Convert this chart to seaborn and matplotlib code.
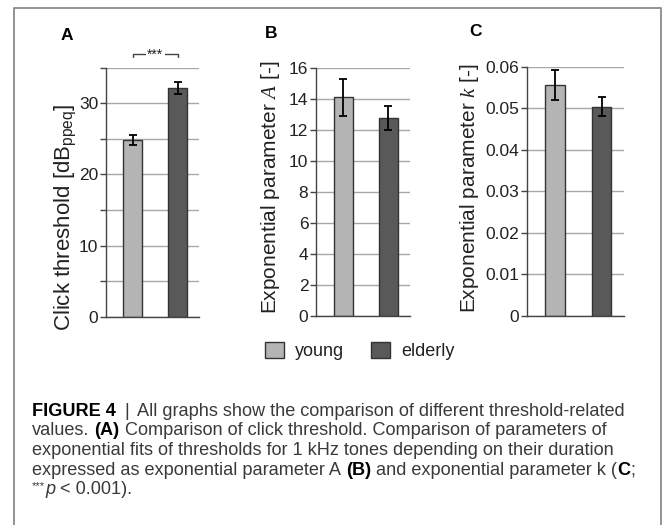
import matplotlib
matplotlib.use('Agg')
import matplotlib.pyplot as plt
import seaborn as sns
from matplotlib.patches import Patch
from matplotlib.lines import Line2D

# Werte
groups = ['young', 'elderly']
click_thr = [24.8, 32.1]
click_err = [0.7, 0.85]
param_a = [14.1, 12.75]
param_a_err = [1.2, 0.78]
param_k = [0.0556, 0.0504]
param_k_err = [0.0035, 0.0023]

a_ticks = [0, 5, 10, 15, 20, 25, 30, 35]
a_labels = ['0', '', '10', '', '20', '', '30', '']
b_ticks = [0, 2, 4, 6, 8, 10, 12, 14, 16]
b_labels = [str(t) for t in b_ticks]
c_ticks = [0, 0.01, 0.02, 0.03, 0.04, 0.05, 0.06]
c_labels = ['0', '0.01', '0.02', '0.03', '0.04', '0.05', '0.06']

colors = {'young': '#b4b4b4', 'elderly': '#595959'}

sns.set_theme(style='white')
plt.rcParams['font.family'] = ['Liberation Sans', 'DejaVu Sans']
plt.rcParams['mathtext.fontset'] = 'custom'
plt.rcParams['mathtext.rm'] = 'Liberation Sans'
plt.rcParams['mathtext.it'] = 'Liberation Serif:italic'
plt.rcParams['mathtext.bf'] = 'Liberation Sans:bold'

W, H = 668, 525
fig = plt.figure(figsize=(W / 100, H / 100), dpi=100)

# (links, rechts, oben, unten) in Pixeln
panels = [
    dict(box=(106, 199, 67.7, 316.7), vals=click_thr, err=click_err, ticks=a_ticks, labels=a_labels,
         ylabel=r'Click threshold [dB$_{\mathrm{ppeq}}$]', lab=(-0.44, 0.40), fs=16, letter='A', lpos=(67, 35)),
    dict(box=(316, 410, 67.7, 316), vals=param_a, err=param_a_err, ticks=b_ticks, labels=b_labels,
         ylabel=r'Exponential parameter $\it{A}$ [-]', lab=(-0.48, 0.52), fs=15, letter='B', lpos=(271, 33)),
    dict(box=(527, 624, 66.7, 316), vals=param_k, err=param_k_err, ticks=c_ticks, labels=c_labels,
         ylabel=r'Exponential parameter $\it{k}$ [-]', lab=(-0.59, 0.515), fs=15, letter='C', lpos=(475, 31)),
]

axes = []
for p in panels:
    l, r, t, b = p['box']
    ax = fig.add_axes([l / W, 1 - b / H, (r - l) / W, (b - t) / H])
    sns.barplot(x=groups, y=p['vals'], hue=groups, palette=colors, width=0.42,
                edgecolor='#333333', linewidth=1, errorbar=None, legend=False, ax=ax)
    ax.errorbar(x=[0, 1], y=p['vals'], yerr=p['err'], fmt='none', ecolor='black',
                elinewidth=1.3, capsize=3, capthick=1.3, zorder=5)
    ax.set_xlim(-0.6, 1.48)
    ax.set_xticks([])
    ax.set_xlabel('')
    ax.set_ylim(p['ticks'][0], p['ticks'][-1])
    ax.set_yticks(p['ticks'])
    ax.set_yticklabels(p['labels'])
    ax.grid(axis='y', color='#a8a8a8', lw=1)
    ax.set_axisbelow(True)
    for s in ['top', 'right']:
        ax.spines[s].set_visible(False)
    for s in ['left', 'bottom']:
        ax.spines[s].set_color('#444444')
        ax.spines[s].set_linewidth(1)
    ax.tick_params(axis='y', left=True, length=4, width=1, color='#444444',
                   labelsize=12.5, labelcolor='#222222', pad=1.5)
    ax.set_ylabel(p['ylabel'], fontsize=p['fs'], color='#222222', ha='center', va='center')
    ax.yaxis.set_label_coords(*p['lab'])
    fig.text(p['lpos'][0] / W, 1 - p['lpos'][1] / H, p['letter'], fontsize=12.5,
             fontweight='bold', ha='center', va='center', color='black')
    axes.append(ax)

# Signifikanz-Klammer in A
axA = axes[0]
axA.plot([0, 0, 1, 1], [36.45, 36.93, 36.93, 36.45], color='#444444', lw=1, clip_on=False)
axA.text(0.5, 36.75, '***', ha='center', va='center', fontsize=10, color='#222222',
         bbox=dict(facecolor='white', edgecolor='none', pad=1))

# Legende
handles = [Patch(facecolor=colors[g], edgecolor='#333333', lw=1, label=g) for g in groups]
fig.legend(handles=handles, loc='center', bbox_to_anchor=(360 / W, 1 - 351 / H), ncol=2,
           frameon=False, fontsize=13, handlelength=1.05, handleheight=1.05,
           handletextpad=0.6, columnspacing=1.5, borderpad=0, labelcolor='#222222')

# Rahmen
bc = '#8a8a8a'
fig.add_artist(Line2D([13.5 / W, 13.5 / W, 661 / W, 661 / W], [0, 1 - 8 / H, 1 - 8 / H, 0],
                      color=bc, lw=1.3, transform=fig.transFigure))

# Bildunterschrift
fig.canvas.draw()
rend = fig.canvas.get_renderer()

norm = dict(color='#3a3a3a')
bold = dict(color='black', fontweight='bold')
ital = dict(color='#3a3a3a', fontstyle='italic')
small = dict(color='#3a3a3a', small=True)

caption = [
    [('FIGURE 4', bold, 1.6), ('|', norm, 1.6), ('All graphs show the comparison of different threshold-related', norm, 0)],
    [('values.', norm, 1), ('(A)', bold, 1), ('Comparison of click threshold. Comparison of parameters of', norm, 0)],
    [('exponential fits of thresholds for 1 kHz tones depending on their duration', norm, 0)],
    [('expressed as exponential parameter A', norm, 1), ('(B)', bold, 1), ('and exponential parameter k (', norm, 0),
     ('C', bold, 0), (';', norm, 0)],
    [('***', small, 0), ('p', ital, 1), ('< 0.001).', norm, 0)],
]
baselines = [415.7, 435.4, 455.1, 474.8, 494.5]


def draw_line(runs, yb, size, draw=True):
    x = 32
    made = []
    sp_w = None
    for s, props, sp in runs:
        kw = dict(props)
        is_small = kw.pop('small', False)
        fs = size * 0.62 if is_small else size
        dy = 5 if is_small else 0
        t = fig.text(x / W, 1 - (yb - dy) / H, s, fontsize=fs, va='baseline', ha='left', **kw)
        if sp_w is None:
            a = fig.text(0, 0, 'a a', fontsize=size)
            c = fig.text(0, 0, 'aa', fontsize=size)
            sp_w = a.get_window_extent(rend).width - c.get_window_extent(rend).width
            a.remove()
            c.remove()
        x += t.get_window_extent(rend).width + sp * sp_w
        made.append(t)
    if not draw:
        for t in made:
            t.remove()
    return x


# Schriftgröße so wählen, dass Zeile 1 bis ~625 px reicht
cap_size = 11.0
end = draw_line(caption[0], baselines[0], cap_size, draw=False)
cap_size = cap_size * (625 - 32) / (end - 32)

for runs, yb in zip(caption, baselines):
    draw_line(runs, yb, cap_size)

fig.savefig('out.png', dpi=100)
